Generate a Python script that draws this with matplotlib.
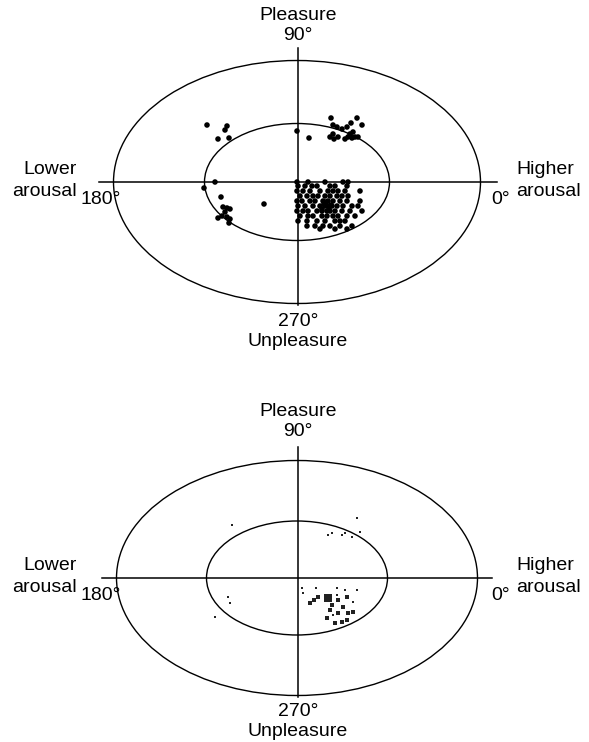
import matplotlib.pyplot as plt
from matplotlib.patches import Ellipse

plt.rcParams['font.family'] = ['Liberation Sans', 'DejaVu Sans']

# upper panel: dots, offsets from the centre (arousal right, pleasure up)
top_x = [-90, -70, -72, -79, -68,
         0, 12,
         34, 36, 40, 45, 50, 54, 60, 65, 33, 37, 41, 36, 48, 53, 56, 58, 61, 55, 51,
         -82, -93, 0, 11, 28, 46, 51,
         -76, -33, -74, -70, -67, -72, -75, -70, -67, -79, -68,
         1, 8, 15, 20, 33, 38, 50,
         0, 6, 13, 23, 31, 36, 41, 48, 63,
         3, 10, 16, 21, 28, 33, 40, 45, 51,
         0, 5, 13, 18, 26, 31, 36, 43, 50, 63,
         1, 8, 16, 23, 28, 31, 35, 40, 46, 55, 61,
         0, 6, 11, 20, 25, 30, 33, 38, 45, 53, 65,
         3, 11, 16, 25, 30, 36, 41, 50, 58,
         1, 10, 20, 28, 38, 43, 48,
         10, 18, 26, 33, 43, 55,
         23, 38, 50,
         27, 32, 29, 34, 25]
top_y = [57, 56, 52, 43, 44,
         51, 44,
         64, 57, 55, 53, 55, 59, 64, 57, 45, 43, 45, 48, 43, 48, 50, 45, 45, 44, 45,
         0, -6, 0, 0, 0, 0, 0,
         -15, -22, -25, -26, -27, -30, -34, -35, -37, -36, -41,
         -4, -4, -4, -4, -4, -4, -4,
         -9, -9, -9, -9, -9, -9, -9, -9, -9,
         -14, -14, -14, -14, -14, -14, -14, -14, -14,
         -19, -19, -19, -19, -19, -19, -19, -19, -19, -19,
         -24, -24, -24, -24, -24, -24, -24, -24, -24, -24, -24,
         -29, -29, -29, -29, -29, -29, -29, -29, -29, -29, -29,
         -34, -34, -34, -34, -34, -34, -34, -34, -34,
         -39, -39, -39, -39, -39, -39, -39,
         -44, -44, -44, -44, -44, -44,
         -47, -47, -47,
         -22, -26, -20, -23, -27]

# lower panel: faint specks
bot_x = [-65, 60, 31, 35, 45, 48, 55, 63,
         5, 6, 19, 21, 17, 13, 30, 31, 35, 40, 41, 48, 50, 56, 60,
         46, 51, 56, 36, 33, 41, -69, -67, -82, 40, 30, 45, 50, 38]
bot_y = [53, 60, 43, 45, 43, 45, 41, 46,
         -10, -15, -10, -19, -22, -25, -19, -20, -27, -17, -22, -12, -19, -24, -12,
         -29, -35, -34, -37, -32, -35, -19, -25, -39, -10, -40, -44, -42, -45]
bot_s = [2, 2, 3, 2, 3, 2, 2, 2,
         3, 3, 4, 5, 6, 5, 8, 30, 8, 4, 6, 3, 5, 4, 3,
         6, 8, 6, 4, 10, 8, 2, 2, 2, 3, 5, 6, 8, 5]

labels_top = ['Pleasure', '90°']
labels_bot = ['270°', 'Unpleasure']
labels_left = ['Lower', 'arousal']
labels_right = ['Higher', 'arousal']

fig = plt.figure(figsize=(5.89, 7.42), dpi=100)
ax = fig.add_axes([0, 0, 1, 1])
ax.set_xlim(0, 589)
ax.set_ylim(742, 0)
ax.axis('off')

fs = 14
panels = [
    # centre, outer and inner semi-axes, axis line extents, text shift
    dict(cx=297, cy=182, oa=183.5, ob=121.5, ia=92.5, ib=58.5,
         hx=(99, 497), vy=(48, 305), ty=0),
    dict(cx=297, cy=578, oa=180.5, ob=117.5, ia=90.5, ib=57,
         hx=(102, 492), vy=(447, 697), ty=396),
]

for i, p in enumerate(panels):
    cx, cy = p['cx'], p['cy']
    ax.add_patch(Ellipse((cx, cy), 2 * p['oa'], 2 * p['ob'], fill=False,
                         lw=1.0, color='black'))
    ax.add_patch(Ellipse((cx, cy), 2 * p['ia'], 2 * p['ib'], fill=False,
                         lw=1.0, color='black'))
    ax.plot(p['hx'], [cy, cy], color='black', lw=1.1)
    ax.plot([cx + 1, cx + 1], p['vy'], color='black', lw=1.1)

    ty = p['ty']
    ax.text(298, 16 + ty, labels_top[0], ha='center', va='center', fontsize=fs)
    ax.text(298, 36 + ty, labels_top[1], ha='center', va='center', fontsize=fs)
    off = 0 if i == 0 else -6
    ax.text(298, 322 + ty + off, labels_bot[0], ha='center', va='center', fontsize=fs)
    ax.text(298, 341 + ty + off, labels_bot[1], ha='center', va='center', fontsize=fs)
    ax.text(77, 170 + ty, labels_left[0], ha='right', va='center', fontsize=fs)
    ax.text(77, 191 + ty, labels_left[1], ha='right', va='center', fontsize=fs)
    ax.text(80, 200 + ty, '180°', ha='left', va='center', fontsize=fs)
    ax.text(491, 200 + ty, '0°', ha='left', va='center', fontsize=fs)
    ax.text(516, 170 + ty, labels_right[0], ha='left', va='center', fontsize=fs)
    ax.text(516, 191 + ty, labels_right[1], ha='left', va='center', fontsize=fs)

# upper panel dots
c0 = panels[0]
ax.scatter([c0['cx'] + x for x in top_x], [c0['cy'] - y for y in top_y],
           s=16, color='black', edgecolors='none', zorder=3)

# lower panel specks
c1 = panels[1]
ax.scatter([c1['cx'] + x for x in bot_x], [c1['cy'] - y for y in bot_y],
           s=bot_s, color='#222222', edgecolors='none', marker='s', zorder=3)

fig.savefig('out.png', dpi=100)
